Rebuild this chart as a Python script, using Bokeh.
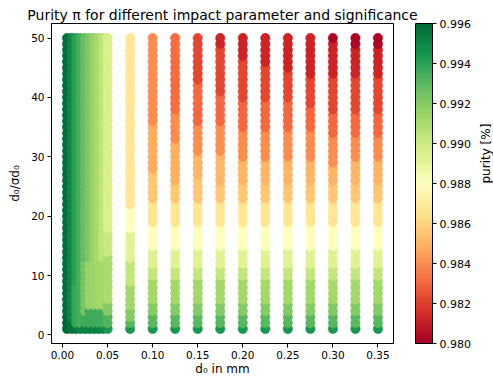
import numpy as np
from bokeh.plotting import figure
from bokeh.models import (ColumnDataSource, LinearColorMapper, ColorBar, FixedTicker,
                          PrintfTickFormatter, LinearAxis, Title)
from bokeh.embed import file_html
from bokeh.resources import INLINE

# ---------------- data ----------------
d0_columns = [0.005, 0.010, 0.015, 0.020, 0.025, 0.030, 0.035, 0.040, 0.045, 0.050,
              0.075, 0.100, 0.125, 0.150, 0.175, 0.200, 0.225, 0.250, 0.275, 0.300,
              0.325, 0.350]
significance = list(range(1, 51))

x_ticks = [0.00, 0.05, 0.10, 0.15, 0.20, 0.25, 0.30, 0.35]
y_ticks = [0, 10, 20, 30, 40, 50]
cbar_ticks = [0.980, 0.982, 0.984, 0.986, 0.988, 0.990, 0.992, 0.994, 0.996]

# purity per column, listed from d0/sigma = 1 upward as (number of points, purity)
pur_0005 = [(3, 0.9960), (47, 0.9958)]
pur_0010 = [(2, 0.9956), (48, 0.9950)]
pur_0015 = [(1, 0.9955), (7, 0.9938), (42, 0.9941)]
pur_0020 = [(1, 0.9952), (49, 0.9934)]
pur_0025 = [(1, 0.9952), (2, 0.9936), (9, 0.9924), (38, 0.9927)]
pur_0030 = [(1, 0.9952), (3, 0.9936), (8, 0.9915), (38, 0.9922)]
pur_0035 = [(1, 0.9952), (3, 0.9936), (8, 0.9914), (38, 0.9916)]
pur_0040 = [(1, 0.9952), (3, 0.9936), (8, 0.9913), (38, 0.9911)]
pur_0045 = [(1, 0.9950), (3, 0.9935), (8, 0.9912), (38, 0.9904)]
pur_0050 = [(1, 0.9944), (2, 0.9932), (2, 0.9920), (8, 0.9910), (4, 0.9900), (33, 0.9895)]
pur_0075 = [(1, 0.9944), (1, 0.9930), (2, 0.9920), (4, 0.9912), (4, 0.9902), (5, 0.9892),
            (4, 0.9880), (29, 0.9868)]
lower_bands = [(1, 0.9944), (2, 0.9930), (2, 0.9920), (4, 0.9912), (2, 0.9902), (3, 0.9893),
               (4, 0.9881), (4, 0.9867)]
pur_0100 = lower_bands + [(5, 0.9856), (8, 0.9848), (15, 0.9840)]
pur_0125 = lower_bands + [(3, 0.9856), (7, 0.9849), (5, 0.9840), (13, 0.9832)]
pur_0150 = lower_bands + [(4, 0.9856), (4, 0.9850), (5, 0.9840), (7, 0.9831), (8, 0.9822)]
pur_0175 = lower_bands + [(3, 0.9856), (5, 0.9850), (5, 0.9840), (5, 0.9831), (8, 0.9822), (2, 0.9812)]
pur_0200 = lower_bands + [(3, 0.9856), (4, 0.9850), (5, 0.9840), (5, 0.9831), (7, 0.9822), (4, 0.9812)]
pur_0225 = lower_bands + [(3, 0.9856), (4, 0.9850), (5, 0.9840), (5, 0.9831), (6, 0.9822), (5, 0.9812)]
pur_0250 = lower_bands + [(3, 0.9856), (4, 0.9850), (5, 0.9840), (5, 0.9831), (5, 0.9822), (6, 0.9812)]
pur_0275 = lower_bands + [(3, 0.9856), (4, 0.9850), (5, 0.9840), (4, 0.9831), (5, 0.9822), (7, 0.9812)]
pur_0300 = lower_bands + [(3, 0.9856), (3, 0.9850), (5, 0.9840), (4, 0.9831), (6, 0.9822), (6, 0.9812), (1, 0.9802)]
pur_0325 = lower_bands + [(3, 0.9856), (4, 0.9850), (4, 0.9840), (4, 0.9831), (6, 0.9822), (5, 0.9812), (2, 0.9802)]
pur_0350 = lower_bands + [(3, 0.9856), (4, 0.9850), (4, 0.9840), (4, 0.9831), (6, 0.9822), (5, 0.9812), (2, 0.9802)]

column_bands = [pur_0005, pur_0010, pur_0015, pur_0020, pur_0025, pur_0030, pur_0035,
                pur_0040, pur_0045, pur_0050, pur_0075, pur_0100, pur_0125, pur_0150,
                pur_0175, pur_0200, pur_0225, pur_0250, pur_0275, pur_0300, pur_0325,
                pur_0350]

# ---------------- build the point table ----------------
xs, ys, ps = [], [], []
for d0, bands in zip(d0_columns, column_bands):
    vals = []
    for n, v in bands:
        vals += [v] * n
    for s, v in zip(significance, vals):
        xs.append(d0)
        ys.append(s)
        ps.append(v)
source = ColumnDataSource(dict(x=xs, y=ys, purity=ps))

# RdYlGn colormap (red -> yellow -> green)
anchors = ["#a50026", "#d73027", "#f46d43", "#fdae61", "#fee08b", "#ffffbf",
           "#d9ef8b", "#a6d96a", "#66bd63", "#1a9850", "#006837"]
arr = np.array([[int(c[i:i + 2], 16) for i in (1, 3, 5)] for c in anchors], dtype=float)
pos = np.linspace(0, 1, len(anchors))
t = np.linspace(0, 1, 256)
palette = []
for ti in t:
    rgb = [np.interp(ti, pos, arr[:, k]) for k in range(3)]
    palette.append("#%02x%02x%02x" % tuple(int(round(c)) for c in rgb))

mapper = LinearColorMapper(palette=palette, low=0.980, high=0.996)

FONT = "DejaVu Sans"

p = figure(frame_width=342, frame_height=320,
           x_range=(-0.01225, 0.36725), y_range=(-1.45, 52.45),
           output_backend="svg", toolbar_location=None,
           min_border_left=51, min_border_top=23, min_border_bottom=36, min_border_right=100,
           background_fill_color="white", border_fill_color="white")

p.title.text = "Purity π for different impact parameter and significance"
p.title.text_font = FONT
p.title.text_font_size = "14px"
p.title.text_font_style = "normal"
p.title.align = "center"
p.title.text_color = "black"
p.title.standoff = 2
p.title.offset = 0

p.scatter(x="x", y="y", source=source, size=9.5,
          fill_color={"field": "purity", "transform": mapper},
          line_color={"field": "purity", "transform": mapper}, line_width=0.5)

p.grid.visible = False
p.outline_line_color = "black"
p.outline_line_alpha = 1.0

for ax in (p.xaxis, p.yaxis):
    ax.axis_line_color = "black"
    ax.major_tick_line_color = "black"
    ax.major_tick_in = 0
    ax.major_tick_out = 4
    ax.minor_tick_line_color = None
    ax.major_label_text_font = FONT
    ax.major_label_text_font_size = "10.5px"
    ax.major_label_text_color = "black"
    ax.major_label_standoff = 3
    ax.axis_label_text_font = FONT
    ax.axis_label_text_font_size = "12px"
    ax.axis_label_text_font_style = "normal"
    ax.axis_label_text_color = "black"

p.xaxis.ticker = FixedTicker(ticks=x_ticks)
p.xaxis.formatter = PrintfTickFormatter(format="%.2f")
p.yaxis.ticker = FixedTicker(ticks=y_ticks)
p.xaxis.axis_label = "d₀ in mm"
p.yaxis.axis_label = "d₀/σd₀"
p.xaxis.axis_label_standoff = 0
p.yaxis.axis_label_standoff = 6

cb = ColorBar(color_mapper=mapper, ticker=FixedTicker(ticks=cbar_ticks),
              formatter=PrintfTickFormatter(format="%.3f"),
              width=17, height=320, padding=0, margin=0, location=(22, 0),
              major_tick_in=0, major_tick_out=4, major_tick_line_color="black",
              minor_tick_line_color=None,
              bar_line_color="black", label_standoff=3,
              major_label_text_font=FONT, major_label_text_font_size="11px",
              major_label_text_color="black",
              background_fill_color=None, border_line_color=None)
p.add_layout(cb, "right")

# colour-bar label: an empty right axis carrying only its (rotated) label
if "axis_label_orientation" in LinearAxis.properties():
    lab_axis = LinearAxis(ticker=FixedTicker(ticks=[]), axis_label="purity [%]",
                          axis_line_color=None, major_tick_line_color=None,
                          minor_tick_line_color=None, major_label_text_font_size="0px",
                          axis_label_text_font=FONT, axis_label_text_font_size="12px",
                          axis_label_text_font_style="normal", axis_label_text_color="black",
                          axis_label_standoff=12)
    lab_axis.axis_label_orientation = np.pi / 2
    p.add_layout(lab_axis, "right")
else:
    p.add_layout(Title(text="purity [%]", align="center", text_font=FONT,
                       text_font_size="12px", text_font_style="normal",
                       text_color="black"), "right")

open("out.html", "w").write(file_html(p, INLINE))
